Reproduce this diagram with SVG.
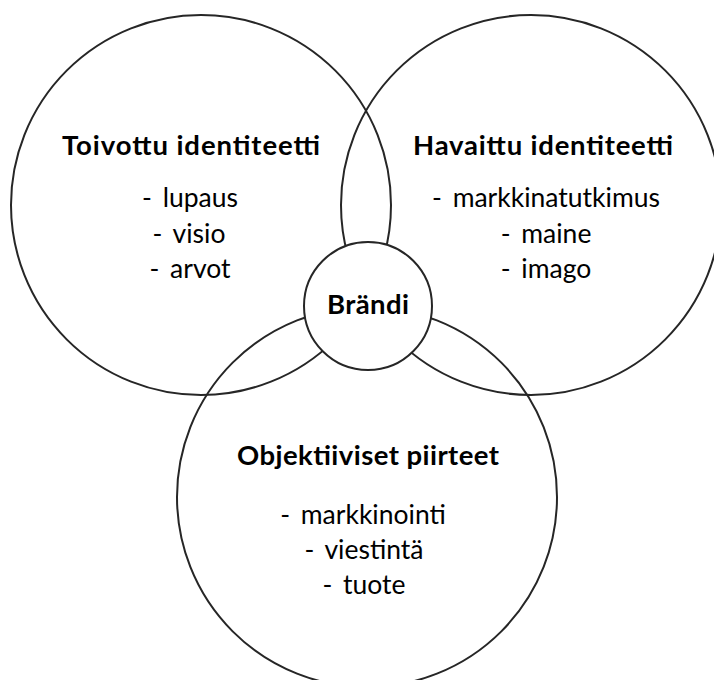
<svg xmlns="http://www.w3.org/2000/svg" width="714" height="680" viewBox="0 0 714 680">
<style>
.c{fill:none;stroke:#262626;stroke-width:2}
.b{fill:#fff;stroke:#262626;stroke-width:2}
text{font-family:Lato,"Open Sans",sans-serif;fill:#000;text-anchor:middle}
.t{font-weight:bold;font-size:27.5px}
.i{font-size:26.5px}
</style>
<rect width="714" height="680" fill="#fff"/>
<g id="connectors"></g>
<g id="toivottu">
<circle class="c" cx="201" cy="205" r="190"/>
<text class="t" x="191" y="155" textLength="258">Toivottu identiteetti</text>
<text class="i" x="190" y="207">- <tspan dx="4">lupaus</tspan></text>
<text class="i" x="189" y="243">- <tspan dx="4">visio</tspan></text>
<text class="i" x="190" y="278">- <tspan dx="4">arvot</tspan></text>
</g>
<g id="havaittu">
<circle class="c" cx="531" cy="205" r="190"/>
<text class="t" x="543" y="155" textLength="260">Havaittu identiteetti</text>
<text class="i" x="546" y="207">- <tspan dx="4">markkinatutkimus</tspan></text>
<text class="i" x="546" y="243">- <tspan dx="4">maine</tspan></text>
<text class="i" x="546" y="278">- <tspan dx="4">imago</tspan></text>
</g>
<g id="objektiiviset">
<circle class="c" cx="367" cy="497" r="190"/>
<text class="t" x="368" y="465" textLength="262">Objektiiviset piirteet</text>
<text class="i" x="363" y="524">- <tspan dx="4">markkinointi</tspan></text>
<text class="i" x="364" y="559">- <tspan dx="4">viestintä</tspan></text>
<text class="i" x="364" y="594">- <tspan dx="4">tuote</tspan></text>
</g>
<g id="brandi">
<circle class="b" cx="368" cy="306" r="64"/>
<text class="t" x="368" y="314" textLength="82">Brändi</text>
</g>
</svg>
